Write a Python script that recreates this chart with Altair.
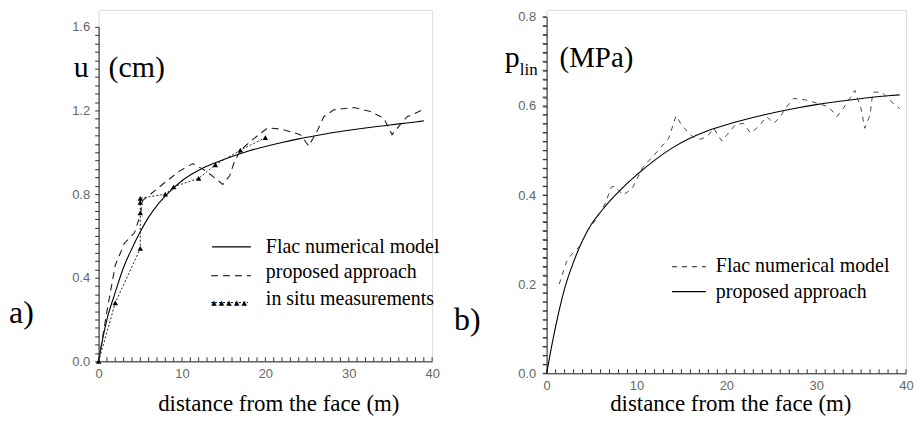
import altair as alt
import pandas as pd

# ---------------- data ----------------
a_flac_x = [0, 0.5, 1, 2, 3, 4, 5, 6, 7, 8, 9, 10, 12, 14, 16, 18, 20, 22, 24, 26, 28, 30, 32, 34, 36, 38, 39]
a_flac_y = [0, 0.11, 0.20, 0.33, 0.45, 0.54, 0.62, 0.69, 0.745, 0.79, 0.83, 0.864, 0.914, 0.95, 0.98,
            1.006, 1.028, 1.047, 1.064, 1.079, 1.093, 1.105, 1.116, 1.126, 1.136, 1.145, 1.15]

a_prop_x = [0, 1, 2, 3.1, 4.3, 5.0, 5.3, 5.7, 7.9, 9.7, 11.3, 12.9, 14.9, 15.7, 16.3, 17.1, 18.7, 20.3,
            22, 24.2, 25.2, 26.2, 27, 28.2, 30.6, 32.6, 34.2, 35.2, 36, 37, 39]
a_prop_y = [0, 0.24, 0.46, 0.565, 0.615, 0.70, 0.77, 0.782, 0.854, 0.91, 0.946, 0.91, 0.846, 0.886, 0.957,
            1.013, 1.068, 1.117, 1.11, 1.084, 1.03, 1.1, 1.17, 1.203, 1.214, 1.195, 1.163, 1.084, 1.124, 1.17, 1.205]

a_situ_x = [0, 2, 5, 5, 5, 5, 8, 9, 12, 14, 17, 20]
a_situ_y = [0, 0.28, 0.54, 0.71, 0.76, 0.78, 0.80, 0.835, 0.875, 0.94, 1.01, 1.07]

b_flac_x = [1.4, 2.2, 2.7, 3.7, 4.6, 5.5, 6.5, 7.2, 7.6, 8.5, 9.5, 10.7, 12.5, 13.6, 14.4, 15.1, 16.2, 17.1,
            17.9, 18.6, 19.5, 20.1, 21.0, 21.9, 22.7, 23.6, 24.5, 25.3, 26.0, 26.7, 27.5, 29.0, 30.3, 31.4,
            32.3, 33.0, 34.3, 35.0, 35.4, 36.0, 36.3, 37.3, 38.4, 39.3]
b_flac_y = [0.20, 0.25, 0.265, 0.286, 0.322, 0.345, 0.38, 0.418, 0.42, 0.40, 0.414, 0.462, 0.502, 0.528,
            0.578, 0.555, 0.532, 0.525, 0.532, 0.55, 0.521, 0.536, 0.558, 0.561, 0.539, 0.554, 0.576, 0.561,
            0.576, 0.598, 0.617, 0.613, 0.605, 0.598, 0.576, 0.594, 0.635, 0.594, 0.55, 0.58, 0.631, 0.631,
            0.609, 0.594]

b_prop_x = [0, 0.5, 1, 1.5, 2, 3, 4, 5, 6, 7, 8, 9, 10, 12, 14, 16, 18, 20, 22, 24, 26, 28, 30, 32, 34, 36, 38, 39.3]
b_prop_y = [0, 0.055, 0.105, 0.15, 0.19, 0.25, 0.298, 0.335, 0.362, 0.386, 0.407, 0.427, 0.445, 0.478,
            0.506, 0.528, 0.545, 0.558, 0.569, 0.579, 0.588, 0.596, 0.603, 0.609, 0.614, 0.619, 0.623, 0.625]

x_major = [0, 10, 20, 30, 40]
x_minor = list(range(0, 41))
a_y_ticks = [round(i * 0.04, 2) for i in range(41)]
b_y_ticks = [round(i * 0.02, 2) for i in range(41)]

a_legend = ["Flac numerical model", "proposed approach", "in situ measurements"]
b_legend = ["Flac numerical model", "proposed approach"]
x_title = "distance from the face (m)"
a_ylabel = ["u", "(cm)"]
b_ylabel = ["p", "lin", "(MPa)"]
panel_tags = ["a)", "b)"]
tri_sample = "\u25B2 \u25B2 \u25B2 \u25B2 \u25B2"

SERIF = "Liberation Serif"
SANS = "Liberation Sans"
AX = "#222222"
TICK = "#333333"
LAB = "#666666"
TICK_LEN = 4


def df(x, y):
    return pd.DataFrame({"x": x, "y": y})


def label_expr(mod):
    return f"round(datum.value*100) % {mod} == 0 ? format(datum.value, '.1f') : ''"


def y_axis_values(values, mod, pad):
    return alt.Axis(values=values, labelExpr=label_expr(mod),
                    ticks=True, tickSize=TICK_LEN, tickWidth=1, tickColor=TICK, tickOpacity=1,
                    labelPadding=pad, labelOverlap=False, labelFlush=False, grid=False, title=None,
                    domain=True, domainColor=AX, domainWidth=1,
                    labelColor=LAB, labelFont=SANS, labelFontSize=13)


def y_axis_count(count, mod, pad):
    return alt.Axis(tickCount=count, labelExpr=label_expr(mod),
                    ticks=True, tickSize=TICK_LEN, tickWidth=1, tickColor=TICK, tickOpacity=1,
                    labelPadding=pad, labelOverlap=False, labelFlush=False, grid=False, title=None,
                    domain=True, domainColor=AX, domainWidth=1,
                    labelColor=LAB, labelFont=SANS, labelFontSize=13)


def x_label_axis():
    return alt.Axis(orient="bottom", values=x_major, format="d", ticks=False, tickSize=0, labelPadding=6,
                    labelFlush=False, labelOverlap=False, grid=False, title=None, domainColor=AX, domainWidth=1,
                    labelColor=LAB, labelFont=SANS, labelFontSize=13)


def text_layer(label, x, y, size, font=SERIF, align="left", baseline="alphabetic"):
    return alt.Chart(pd.DataFrame({"t": [label]})).mark_text(
        font=font, fontSize=size, align=align, baseline=baseline, color="black"
    ).encode(text="t:N", x=alt.value(x), y=alt.value(y))


def rule_layer(x1, x2, y, dash=None, width=1.1):
    kw = dict(color="black", strokeWidth=width)
    if dash:
        kw["strokeDash"] = dash
    return alt.Chart(pd.DataFrame({"k": [0]})).mark_rule(**kw).encode(
        x=alt.value(x1), x2=alt.value(x2), y=alt.value(y))


def x_tick_layer(h):
    # minor ticks along the x axis, pointing into the plot
    return alt.Chart(pd.DataFrame({"v": x_minor})).mark_tick(
        color=TICK, thickness=1, size=TICK_LEN, orient="vertical", opacity=1
    ).encode(x=alt.X("v:Q", scale=XSC, axis=None), y=alt.value(h - TICK_LEN / 2))


def y_tick_rules(ticks, ysc):
    # minor ticks along the y axis, pointing outwards
    return alt.Chart(pd.DataFrame({"tv": ticks})).mark_rule(color=TICK, strokeWidth=1).encode(
        y=alt.Y("tv:Q", scale=ysc, axis=None), x=alt.value(-TICK_LEN), x2=alt.value(0))


XSC = alt.Scale(domain=[0, 40], nice=False, zero=False)

# ---------------- panel a ----------------
HA = 353
ysc_a = alt.Scale(domain=[0, 1.6], range=[HA, 17], nice=False)
yax_a = y_axis_values(a_y_ticks, 40, 5)

a_flac = alt.Chart(df(a_flac_x, a_flac_y)).mark_line(color="black", strokeWidth=1.1, interpolate="monotone").encode(
    x=alt.X("x:Q", scale=XSC, axis=x_label_axis()), y=alt.Y("y:Q", scale=ysc_a, axis=yax_a))
a_prop = alt.Chart(df(a_prop_x, a_prop_y)).mark_line(color="#222222", strokeWidth=1.1, strokeDash=[7, 5]).encode(
    x=alt.X("x:Q", scale=XSC, axis=None), y=alt.Y("y:Q", scale=ysc_a, axis=None))
a_situ_line = alt.Chart(df(a_situ_x, a_situ_y)).mark_line(color="#222222", strokeWidth=1, strokeDash=[2, 2]).encode(
    x=alt.X("x:Q", scale=XSC, axis=None), y=alt.Y("y:Q", scale=ysc_a, axis=None))
a_situ_pts = alt.Chart(df(a_situ_x, a_situ_y)).mark_point(shape="triangle-up", filled=True, size=30,
                                                          color="black", opacity=1).encode(
    x=alt.X("x:Q", scale=XSC, axis=None), y=alt.Y("y:Q", scale=ysc_a, axis=None))

panel_a = alt.layer(
    a_flac, a_prop, a_situ_line, a_situ_pts,
    x_tick_layer(HA),
    rule_layer(114, 153, 238),
    rule_layer(113, 153, 267, dash=[7, 5]),
    rule_layer(113, 150, 294, dash=[2, 2], width=1),
    text_layer(tri_sample, 131, 294, 7, font="DejaVu Sans", align="center", baseline="middle"),
    text_layer(a_legend[0], 168, 244, 20),
    text_layer(a_legend[1], 168, 269, 20),
    text_layer(a_legend[2], 168, 296, 20),
    text_layer(a_ylabel[0], -25, 67, 30),
    text_layer(a_ylabel[1], 10, 67, 30),
    text_layer(panel_tags[0], -90, 314, 32),
    text_layer(x_title, 181, 403, 23, align="center"),
).resolve_axis(x="independent", y="independent").properties(width=335, height=HA)

# ---------------- panel b ----------------
HB = 365
ysc_b = alt.Scale(domain=[0, 0.8], range=[HB, 7], nice=False)
yax_b = y_axis_count(len(b_y_ticks) - 1, 20, 7)

b_prop = alt.Chart(df(b_prop_x, b_prop_y)).mark_line(color="black", strokeWidth=1.1, interpolate="monotone").encode(
    x=alt.X("x:Q", scale=XSC, axis=x_label_axis()), y=alt.Y("y:Q", scale=ysc_b, axis=yax_b))
b_flac = alt.Chart(df(b_flac_x, b_flac_y)).mark_line(color="#333333", strokeWidth=0.9, strokeDash=[5, 5]).encode(
    x=alt.X("x:Q", scale=XSC, axis=None), y=alt.Y("y:Q", scale=ysc_b, axis=None))

panel_b = alt.layer(
    b_prop, b_flac,
    x_tick_layer(HB), y_tick_rules(b_y_ticks, ysc_b),
    rule_layer(126, 160, 258, dash=[5, 5], width=0.9),
    rule_layer(126, 160, 283),
    text_layer(b_legend[0], 170, 263, 20),
    text_layer(b_legend[1], 170, 289, 20),
    text_layer(b_ylabel[0], -42, 57, 30),
    text_layer(b_ylabel[1], -27, 65, 17),
    text_layer(b_ylabel[2], 13, 57, 29),
    text_layer(panel_tags[1], -93, 322, 32),
    text_layer(x_title, 185, 403, 23, align="center"),
).resolve_axis(x="independent", y="independent").properties(width=361, height=HB)

chart = alt.hconcat(panel_a, panel_b, spacing=115, bounds="flush").properties(
    padding=0
).configure_view(stroke=None).configure(background="white")

chart.save("out.html", embed_options={"renderer": "svg", "actions": False})
